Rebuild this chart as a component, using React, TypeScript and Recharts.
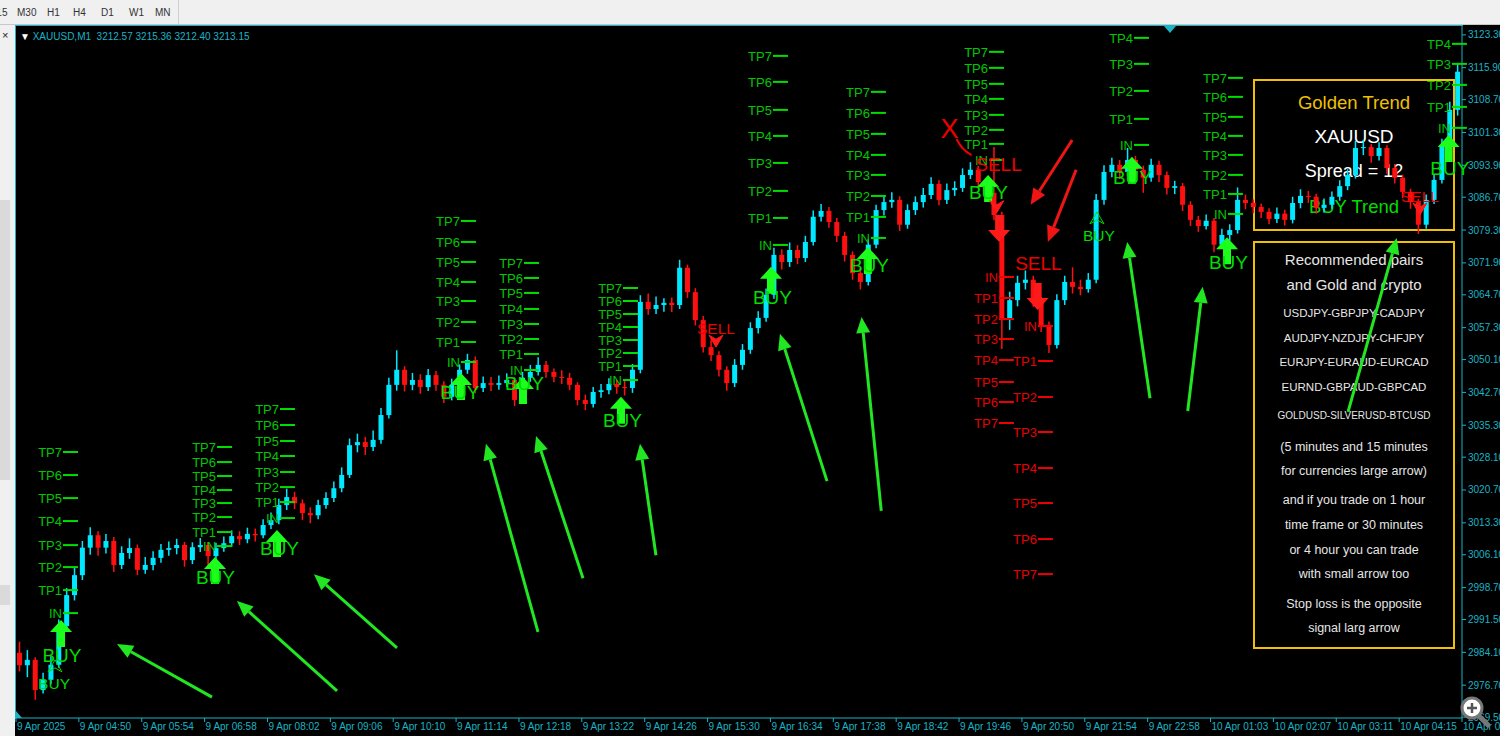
import React from "react";
import { ComposedChart, Bar, XAxis, YAxis, ReferenceDot, ReferenceLine } from "recharts";

const FONT = "'Liberation Sans', Arial, sans-serif";
const AXIS = "#19b4c6";
const UP = "#00e8ff";
const DOWN = "#ff1010";
const GREEN_TXT = "#00c800";
const GREEN_LINE = "#00dd00";
const LIME = "#1cff1c";
const RED_TXT = "#e80000";

// time scale labels, one every 8 bars (8 min per bar)
const timeLabels = [
  "9 Apr 2025", "9 Apr 04:50", "9 Apr 05:54", "9 Apr 06:58", "9 Apr 08:02", "9 Apr 09:06",
  "9 Apr 10:10", "9 Apr 11:14", "9 Apr 12:18", "9 Apr 13:22", "9 Apr 14:26", "9 Apr 15:30",
  "9 Apr 16:34", "9 Apr 17:38", "9 Apr 18:42", "9 Apr 19:46", "9 Apr 20:50", "9 Apr 21:54",
  "9 Apr 22:58", "10 Apr 01:03", "10 Apr 02:07", "10 Apr 03:11", "10 Apr 04:15", "10 Apr 05:19",
];
const timeTickBars = [-0.5, 7.5, 15.5, 23.5, 31.5, 39.5, 47.5, 55.5, 63.5, 71.5, 79.5, 87.5, 95.5, 103.5, 111.5, 119.5, 127.5, 135.5, 143.5, 151.5, 159.5, 167.5, 175.5, 183.5];

const priceTicks = [
  3123.3, 3115.9, 3108.7, 3101.3, 3093.9, 3086.7, 3079.3, 3071.9, 3064.7, 3057.3, 3050.1,
  3042.7, 3035.3, 3028.1, 3020.7, 3013.3, 3006.1, 2998.7, 2991.5, 2984.1, 2976.7, 2969.5,
];

const firstOpen = 2984.0;
const closes = [
  2981.2, 2982.4, 2975.6, 2977.9, 2981.3, 2990.0, 2997.0, 3001.5, 3007.7, 3010.5,
  3007.7, 3009.2, 3003.8, 3006.5, 3007.6, 3002.7, 3003.8, 3005.4, 3007.2, 3007.6,
  3008.3, 3004.9, 3007.8, 3008.3, 3005.8, 3007.6, 3008.7, 3010.3, 3009.6, 3010.8,
  3010.5, 3012.8, 3013.9, 3017.3, 3019.1, 3017.7, 3015.5, 3015.0, 3017.3, 3018.9,
  3021.1, 3024.1, 3030.8, 3031.5, 3030.4, 3032.0, 3037.6, 3044.4, 3047.8, 3044.4,
  3045.5, 3043.9, 3046.6, 3044.4, 3041.7, 3044.4, 3047.8, 3050.0, 3043.7, 3044.8,
  3044.4, 3044.8, 3045.5, 3041.0, 3046.0, 3047.3, 3048.9, 3047.3, 3046.2, 3046.0,
  3044.4, 3041.0, 3040.1, 3042.8, 3043.2, 3044.6, 3043.9, 3043.7, 3047.8, 3063.1,
  3061.5, 3062.4, 3062.9, 3062.4, 3070.8, 3065.3, 3059.0, 3052.9, 3051.1, 3047.8,
  3044.8, 3048.9, 3052.3, 3057.2, 3059.5, 3064.7, 3073.7, 3072.1, 3074.8, 3073.0,
  3076.6, 3082.3, 3083.6, 3081.1, 3078.0, 3073.7, 3069.6, 3067.6, 3076.0, 3083.8,
  3085.6, 3086.1, 3080.5, 3083.8, 3085.6, 3087.2, 3089.7, 3086.1, 3088.3, 3088.8,
  3091.7, 3092.9, 3090.1, 3087.7, 3082.7, 3059.0, 3063.5, 3067.4, 3068.1, 3063.5,
  3057.9, 3053.4, 3063.5, 3067.6, 3066.5, 3066.0, 3068.1, 3086.1, 3092.4, 3094.0,
  3092.4, 3095.1, 3092.9, 3091.1, 3094.0, 3091.7, 3088.8, 3089.2, 3085.0, 3081.6,
  3080.2, 3081.4, 3076.0, 3078.2, 3079.3, 3086.1, 3085.4, 3084.5, 3083.4, 3081.8,
  3083.0, 3081.6, 3085.4, 3087.0, 3086.8, 3084.3, 3085.0, 3086.8, 3089.2, 3091.7,
  3097.8, 3098.0, 3096.0, 3097.8, 3093.3, 3091.1, 3087.9, 3085.6, 3080.5, 3086.1,
  3090.6, 3098.5, 3106.4, 3115.0,
];
const highs = [
  2986.5, 2984.6, 2983.0, 2979.5, 2983.2, 2991.5, 2998.6, 3003.4, 3009.2, 3012.3,
  3011.4, 3010.8, 3010.1, 3008.0, 3009.8, 3008.4, 3005.6, 3006.9, 3008.5, 3009.1,
  3009.7, 3009.0, 3008.9, 3009.9, 3009.0, 3008.8, 3010.2, 3011.6, 3011.4, 3012.2,
  3012.0, 3014.1, 3015.6, 3018.7, 3021.0, 3020.3, 3018.6, 3016.8, 3018.5, 3020.2,
  3022.6, 3025.8, 3032.3, 3033.4, 3032.7, 3034.1, 3039.2, 3046.0, 3052.2, 3048.6,
  3047.1, 3046.8, 3048.0, 3047.5, 3045.2, 3045.8, 3049.0, 3051.4, 3050.8, 3046.3,
  3046.2, 3046.5, 3047.0, 3046.1, 3047.3, 3048.9, 3050.6, 3049.8, 3048.1, 3047.7,
  3047.1, 3045.0, 3042.2, 3043.9, 3044.6, 3045.9, 3045.5, 3045.3, 3049.1, 3064.6,
  3065.0, 3064.3, 3063.9, 3064.1, 3072.6, 3071.5, 3066.2, 3059.9, 3054.6, 3052.0,
  3048.6, 3050.2, 3053.6, 3058.5, 3061.0, 3066.1, 3075.3, 3075.0, 3076.5, 3075.9,
  3078.0, 3083.7, 3085.2, 3084.5, 3082.0, 3078.9, 3074.5, 3070.8, 3077.2, 3085.0,
  3087.2, 3087.8, 3086.9, 3085.1, 3086.9, 3088.8, 3091.2, 3090.5, 3089.8, 3090.3,
  3093.2, 3094.6, 3093.8, 3091.0, 3098.0, 3083.4, 3065.4, 3069.0, 3070.2, 3069.0,
  3064.2, 3058.7, 3064.8, 3069.0, 3070.9, 3068.1, 3069.6, 3087.4, 3093.9, 3095.6,
  3095.1, 3097.8, 3096.0, 3093.8, 3095.4, 3094.9, 3092.5, 3090.4, 3089.9, 3085.8,
  3082.5, 3082.8, 3082.0, 3079.6, 3080.6, 3088.9, 3087.3, 3086.2, 3085.3, 3084.2,
  3084.4, 3083.9, 3086.8, 3088.5, 3088.1, 3087.5, 3086.4, 3088.0, 3090.5, 3093.0,
  3099.4, 3099.6, 3098.7, 3099.1, 3098.4, 3094.2, 3091.8, 3088.6, 3086.3, 3087.3,
  3091.9, 3099.9, 3108.2, 3117.0,
];
const lows = [
  2979.8, 2978.5, 2973.4, 2974.8, 2976.9, 2980.6, 2989.1, 2995.8, 3000.4, 3006.1,
  3005.9, 3006.4, 3002.2, 3002.9, 3005.2, 3001.5, 3001.8, 3002.6, 3004.3, 3005.9,
  3006.2, 3003.4, 3004.0, 3006.7, 3003.6, 3004.7, 3006.8, 3007.9, 3008.3, 3008.7,
  3009.1, 3009.8, 3011.9, 3013.0, 3016.2, 3016.4, 3013.9, 3013.2, 3014.1, 3016.5,
  3018.0, 3020.2, 3023.4, 3029.2, 3028.6, 3029.5, 3031.1, 3036.8, 3043.1, 3042.9,
  3043.2, 3042.4, 3043.0, 3043.1, 3040.3, 3040.9, 3043.6, 3046.9, 3042.5, 3042.8,
  3043.0, 3043.3, 3043.9, 3039.6, 3040.2, 3045.1, 3046.5, 3046.0, 3045.0, 3044.6,
  3043.2, 3039.8, 3038.7, 3039.3, 3041.5, 3042.3, 3042.4, 3042.0, 3042.6, 3047.0,
  3060.2, 3060.4, 3060.9, 3060.8, 3061.5, 3064.0, 3057.8, 3051.7, 3049.8, 3046.3,
  3043.1, 3043.9, 3047.8, 3051.4, 3056.0, 3058.6, 3063.8, 3070.4, 3071.0, 3071.6,
  3072.1, 3075.8, 3081.2, 3079.8, 3076.6, 3072.2, 3068.1, 3065.9, 3066.8, 3075.2,
  3082.6, 3084.3, 3079.1, 3079.6, 3082.7, 3084.4, 3086.3, 3084.9, 3085.2, 3087.0,
  3087.9, 3090.8, 3088.9, 3086.2, 3081.5, 3052.5, 3056.8, 3062.1, 3065.9, 3062.0,
  3056.3, 3051.6, 3052.6, 3062.4, 3065.0, 3064.6, 3065.2, 3067.3, 3085.0, 3091.2,
  3090.8, 3091.5, 3091.3, 3087.7, 3090.2, 3090.1, 3087.3, 3087.4, 3083.6, 3080.2,
  3078.9, 3079.4, 3074.3, 3075.1, 3076.9, 3078.5, 3084.0, 3083.1, 3082.0, 3080.6,
  3080.9, 3080.3, 3080.8, 3084.2, 3085.4, 3083.0, 3083.2, 3084.1, 3085.9, 3088.3,
  3090.9, 3096.2, 3094.5, 3095.0, 3092.0, 3089.8, 3086.5, 3084.1, 3078.4, 3079.6,
  3085.2, 3089.8, 3097.6, 3105.1,
];

// IN / TP ladders: side, bar position, prices [IN, TP1..TP7]
const ladderSide = ["buy", "buy", "buy", "buy", "buy", "buy", "buy", "buy", "buy", "sell", "sell", "buy", "buy", "buy"];
const ladderBar = [5.48, 25.08, 33.09, 56.12, 64.14, 76.74, 95.82, 108.29, 123.31, 124.58, 129.54, 141.76, 153.72, 182.22];
const ladderLevels = [
  [2992.95, 2998.14, 3003.32, 3008.28, 3013.7, 3018.88, 3024.07, 3029.26],
  [3008.06, 3011.22, 3014.6, 3017.76, 3020.69, 3023.85, 3027.0, 3030.39],
  [3014.37, 3017.98, 3021.36, 3024.75, 3028.36, 3031.74, 3035.35, 3038.96],
  [3049.55, 3054.07, 3058.58, 3063.31, 3067.6, 3072.11, 3076.62, 3081.35],
  [3047.75, 3051.36, 3054.74, 3058.12, 3061.51, 3065.12, 3068.5, 3071.88],
  [3045.5, 3048.65, 3051.58, 3054.52, 3057.45, 3060.38, 3063.31, 3066.24],
  [3075.94, 3082.03, 3088.12, 3094.43, 3100.52, 3106.39, 3112.7, 3118.56],
  [3077.52, 3082.26, 3086.99, 3091.73, 3096.24, 3100.97, 3105.71, 3110.45],
  [3095.11, 3098.72, 3101.88, 3105.26, 3108.87, 3112.25, 3115.86, 3119.47],
  [3068.72, 3063.99, 3059.25, 3054.74, 3050.01, 3045.04, 3040.53, 3035.8],
  [3057.67, 3049.78, 3041.66, 3033.77, 3025.65, 3017.76, 3009.64, 3001.74],
  [3098.49, 3104.36, 3110.67, 3116.76, 3122.62],
  [3082.93, 3087.44, 3091.73, 3096.24, 3100.52, 3104.81, 3109.32, 3113.6],
  [3102.33, 3107.06, 3112.02, 3116.76, 3121.27],
];

// large signal arrows (tip price)
const arrowSide = ["buy", "buy", "buy", "buy", "buy", "buy", "buy", "buy", "buy", "buy", "buy", "buy", "sell", "sell"];
const arrowBar = [5.23, 24.82, 32.71, 56.12, 64.01, 76.48, 95.57, 107.9, 123.2, 141.5, 153.6, 181.8, 124.6, 129.5];
const arrowPrice = [2991.4, 3005.6, 3011.7, 3047.1, 3046.2, 3041.7, 3071.0, 3075.5, 3091.7, 3095.8, 3077.7, 3100.7, 3076.6, 3061.3];

// signal words
const tagText = ["BUY", "BUY", "BUY", "BUY", "BUY", "BUY", "BUY", "BUY", "BUY", "BUY", "BUY", "BUY", "SELL", "SELL", "BUY", "BUY", "SELL", "SELL"];
const tagBar = [5.35, 24.88, 33.03, 56.0, 64.2, 76.67, 95.76, 108.1, 123.24, 141.57, 153.78, 181.96, 124.52, 129.6, 4.34, 137.3, 88.57, 178.15];
const tagPrice = [2983.5, 3001.1, 3007.6, 3042.8, 3044.8, 3036.5, 3064.2, 3071.4, 3087.9, 3091.3, 3072.1, 3093.3, 3094.2, 3071.9, 2977.2, 3078.0, 3057.2, 3086.8];
const tagBig = [true, true, true, true, true, true, true, true, true, true, true, true, true, true, false, false, false, false];

// small outline arrows
const smallSide = ["buy", "buy", "sell", "sell", "sell"];
const smallBar = [4.46, 137.05, 88.57, 124.3, 178.15];
const smallPrice = [2982.4, 3083.4, 3052.9, 3083.2, 3082.7];

// drawn pointer arrows: tail bar/price -> head bar/price
const pointerColor = ["g", "g", "g", "g", "g", "g", "g", "g", "g", "g", "g", "r", "r"];
const pointerFromBar = [24.44, 40.35, 47.98, 65.92, 71.65, 80.93, 102.7, 109.6, 143.8, 148.6, 169.0, 133.9, 134.4];
const pointerFromPrice = [2974.0, 2975.4, 2985.1, 2988.7, 3000.8, 3006.0, 3022.7, 3016.0, 3041.4, 3038.5, 3038.3, 3099.6, 3092.9];
const pointerToBar = [12.35, 27.62, 37.42, 59.3, 65.67, 78.9, 96.71, 107.1, 140.9, 150.5, 175.2, 128.6, 130.8];
const pointerToPrice = [2986.0, 2995.7, 3001.7, 3031.1, 3032.9, 3031.1, 3055.9, 3059.7, 3076.6, 3066.5, 3077.5, 3085.0, 3076.6];

const crossBar = 118.3;
const crossPrice = 3102.3;

const panelTop = [
  { y: 103, t: "Golden Trend", s: 18.5, c: "#f0c000" },
  { y: 137, t: "XAUUSD", s: 19, c: "#ffffff" },
  { y: 172, t: "Spread = 12", s: 18, c: "#ffffff" },
  { y: 207, t: "BUY Trend", s: 18.5, c: "#00dd00" },
];
const panelBottom = [
  { y: 260, t: "Recommended pairs", s: 15 },
  { y: 285, t: "and Gold and crypto", s: 15 },
  { y: 314, t: "USDJPY-GBPJPY-CADJPY", s: 11.5 },
  { y: 339, t: "AUDJPY-NZDJPY-CHFJPY", s: 11.5 },
  { y: 363, t: "EURJPY-EURAUD-EURCAD", s: 11.5 },
  { y: 388, t: "EURND-GBPAUD-GBPCAD", s: 11.5 },
  { y: 416, t: "GOLDUSD-SILVERUSD-BTCUSD", s: 10 },
  { y: 447, t: "(5 minutes and 15 minutes", s: 12.5 },
  { y: 471, t: "for currencies large arrow)", s: 12.5 },
  { y: 500, t: "and if you trade on 1 hour", s: 12.5 },
  { y: 525, t: "time frame or 30 minutes", s: 12.5 },
  { y: 550, t: "or 4 hour you can trade", s: 12.5 },
  { y: 574, t: "with small arrow too", s: 12.5 },
  { y: 604, t: "Stop loss is the opposite", s: 12.5 },
  { y: 628, t: "signal larg arrow", s: 12.5 },
];

const toolbarItems = [
  { x: -12, t: "M15" }, { x: 17, t: "M30" }, { x: 47, t: "H1" }, { x: 73, t: "H4" },
  { x: 101, t: "D1" }, { x: 129, t: "W1" }, { x: 155, t: "MN" },
];

const bars = closes.map((c, i) => ({
  i,
  o: i === 0 ? firstOpen : closes[i - 1],
  c,
  h: highs[i],
  l: lows[i],
  range: [lows[i], highs[i]],
}));

function Candle(props: any) {
  const { x, y, width, height, payload } = props;
  if (!payload) return null;
  const { o, c, h, l } = payload;
  const color = c >= o ? UP : DOWN;
  const top = Math.min(y, y + height);
  const hh = Math.abs(height);
  const k = hh / Math.max(h - l, 0.0001);
  const cx = x + width / 2;
  const bTop = top + (h - Math.max(o, c)) * k;
  const bh = Math.max(1, Math.abs(o - c) * k);
  return (
    <g>
      <line x1={cx} x2={cx} y1={top} y2={top + hh} stroke={color} strokeWidth={1.5} />
      <rect x={cx - 2.5} y={bTop} width={5} height={bh} fill={color} />
    </g>
  );
}

function BigArrow({ cx, cy, side }: any) {
  const s = side === "buy" ? 1 : -1;
  const pts = [[0, 0], [11, 12], [4, 12], [4, 27], [-4, 27], [-4, 12], [-11, 12]]
    .map(([dx, dy]) => `${cx + dx},${cy + s * dy}`)
    .join(" ");
  return <polygon points={pts} fill={side === "buy" ? LIME : "#ff1a1a"} />;
}

function SmallArrow({ cx, cy, side }: any) {
  const s = side === "buy" ? 1 : -1;
  const pts = [[0, 0], [7, 12], [0, 8], [-7, 12]].map(([dx, dy]) => `${cx + dx},${cy + s * dy}`).join(" ");
  const col = side === "buy" ? GREEN_LINE : "#ff1a1a";
  return <polygon points={pts} fill={side === "buy" ? "none" : col} stroke={col} strokeWidth={1} />;
}

function Pointer(p: any) {
  const { x1, y1, x2, y2, col } = p;
  const a = Math.atan2(y2 - y1, x2 - x1);
  const L = 16;
  const W = 7;
  const bx = x2 - L * Math.cos(a);
  const by = y2 - L * Math.sin(a);
  const nx = -Math.sin(a);
  const ny = Math.cos(a);
  const color = col === "r" ? "#f01515" : "#22e622";
  return (
    <g>
      <line x1={x1} y1={y1} x2={bx} y2={by} stroke={color} strokeWidth={3} />
      <polygon points={`${x2},${y2} ${bx + W * nx},${by + W * ny} ${bx - W * nx},${by - W * ny}`} fill={color} />
    </g>
  );
}

function TimeTick(p: any) {
  const k = timeTickBars.indexOf(p.payload.value);
  return (
    <text x={p.x + 1} y={p.y} dy={7} textAnchor="start" fill={AXIS} fontSize={10} fontFamily={FONT}>
      {timeLabels[k]}
    </text>
  );
}

function PriceTick(p: any) {
  return (
    <text x={p.x} y={p.y} dy="0.35em" textAnchor="start" fill={AXIS} fontSize={10} fontFamily={FONT}>
      {Number(p.payload.value).toFixed(2)}
    </text>
  );
}

export default function App() {
  return (
    <div style={{ position: "fixed", left: 0, top: 0, width: 1500, height: 736, background: "#f0f0f0", overflow: "hidden", fontFamily: FONT }}>
      {/* toolbar */}
      {toolbarItems.map((it) => (
        <div key={it.t} style={{ position: "absolute", left: it.x, top: 7, fontSize: 10, color: "#333", fontFamily: FONT }}>
          {it.t}
        </div>
      ))}
      <div style={{ position: "absolute", left: 178, top: 0, width: 1, height: 24, background: "#d0d0d0" }} />
      <div style={{ position: "absolute", left: 0, top: 24, width: 1500, height: 1, background: "#c8c8c8" }} />
      {/* left strip */}
      <div style={{ position: "absolute", left: 2, top: 29, fontSize: 11, color: "#222" }}>×</div>
      <div style={{ position: "absolute", left: 0, top: 200, width: 10, height: 280, background: "#dadada" }} />
      <div style={{ position: "absolute", left: 0, top: 585, width: 10, height: 20, background: "#dadada" }} />

      {/* chart background */}
      <div style={{ position: "absolute", left: 15, top: 25, width: 1485, height: 711, background: "#000" }} />
      <div style={{ position: "absolute", left: 15, top: 25, width: 1448, height: 1, background: AXIS }} />
      <div style={{ position: "absolute", left: 15, top: 25, width: 1, height: 694, background: AXIS }} />

      {/* info panels */}
      <div style={{ position: "absolute", left: 1253, top: 79, width: 202, height: 152, border: "2px solid #f0c000", boxSizing: "border-box" }} />
      <div style={{ position: "absolute", left: 1253, top: 241, width: 202, height: 408, border: "2px solid #f0c000", boxSizing: "border-box" }} />
      {panelTop.map((r) => (
        <div key={r.t} style={{ position: "absolute", left: 1253, width: 202, top: r.y - r.s * 0.6, height: r.s * 1.2, lineHeight: `${r.s * 1.2}px`, fontSize: r.s, color: r.c, textAlign: "center", whiteSpace: "nowrap" }}>
          {r.t}
        </div>
      ))}
      {panelBottom.map((r) => (
        <div key={r.t} style={{ position: "absolute", left: 1253, width: 202, top: r.y - r.s * 0.6, height: r.s * 1.2, lineHeight: `${r.s * 1.2}px`, fontSize: r.s, color: "#e6e6e6", textAlign: "center", whiteSpace: "nowrap" }}>
          {r.t}
        </div>
      ))}

      {/* chart */}
      <div style={{ position: "absolute", left: 15, top: 25 }}>
        <ComposedChart width={1485} height={711} data={bars} margin={{ top: 1, right: 0, bottom: 0, left: 1 }}>
          <XAxis
            dataKey="i"
            type="number"
            domain={[-0.5, 183.5]}
            allowDataOverflow
            ticks={timeTickBars}
            interval={0}
            height={18}
            stroke={AXIS}
            tickSize={4}
            tickMargin={1}
            tick={<TimeTick />}
          />
          <YAxis
            orientation="right"
            type="number"
            domain={[2969.3, 3125.3]}
            allowDataOverflow
            ticks={priceTicks}
            interval={0}
            width={38}
            stroke={AXIS}
            tickSize={4}
            tickMargin={2}
            tick={<PriceTick />}
          />
          <Bar dataKey="range" barSize={7} shape={<Candle />} isAnimationActive={false} />

          {ladderLevels.map((lv, g) =>
            lv.map((p, k) => {
              const sell = ladderSide[g] === "sell";
              const label = k === 0 ? "IN" : `TP${k}`;
              return (
                <ReferenceDot
                  key={`l${g}-${k}`}
                  x={ladderBar[g]}
                  y={p}
                  ifOverflow="hidden"
                  shape={(d: any) => (
                    <g>
                      <text x={d.cx - 1} y={d.cy} dy="0.36em" textAnchor="end" fill={sell ? RED_TXT : GREEN_TXT} fontSize={13} fontFamily={FONT}>
                        {label}
                      </text>
                      <line x1={d.cx} x2={d.cx + 15} y1={d.cy} y2={d.cy} stroke={sell ? "#f00000" : GREEN_LINE} strokeWidth={2} />
                    </g>
                  )}
                />
              );
            })
          )}

          {arrowBar.map((b, k) => (
            <ReferenceDot key={`a${k}`} x={b} y={arrowPrice[k]} ifOverflow="hidden" shape={(d: any) => <BigArrow cx={d.cx} cy={d.cy} side={arrowSide[k]} />} />
          ))}

          {smallBar.map((b, k) => (
            <ReferenceDot key={`s${k}`} x={b} y={smallPrice[k]} ifOverflow="hidden" shape={(d: any) => <SmallArrow cx={d.cx} cy={d.cy} side={smallSide[k]} />} />
          ))}

          {tagBar.map((b, k) => (
            <ReferenceDot
              key={`t${k}`}
              x={b}
              y={tagPrice[k]}
              ifOverflow="hidden"
              shape={(d: any) => (
                <text x={d.cx} y={d.cy} dy="0.36em" textAnchor="middle" fill={tagText[k] === "BUY" ? "#00dd00" : "#ee0000"} fontSize={tagBig[k] ? 19 : 15.5} fontFamily={FONT}>
                  {tagText[k]}
                </text>
              )}
            />
          ))}

          <ReferenceDot
            x={crossBar}
            y={crossPrice}
            shape={(d: any) => (
              <g>
                <text x={d.cx} y={d.cy} dy="0.36em" textAnchor="middle" fill="#ee0000" fontSize={27} fontFamily={FONT}>
                  X
                </text>
                <path d={`M${d.cx + 7},${d.cy + 11} Q${d.cx + 12},${d.cy + 22} ${d.cx + 22},${d.cy + 27}`} stroke="#ee0000" strokeWidth={2} fill="none" />
              </g>
            )}
          />

          {pointerFromBar.map((b, k) => (
            <ReferenceLine
              key={`p${k}`}
              segment={[
                { x: b, y: pointerFromPrice[k] },
                { x: pointerToBar[k], y: pointerToPrice[k] },
              ]}
              ifOverflow="visible"
              shape={(d: any) => <Pointer x1={d.x1} y1={d.y1} x2={d.x2} y2={d.y2} col={pointerColor[k]} />}
            />
          ))}
        </ComposedChart>
      </div>

      {/* header and decorations */}
      <div style={{ position: "absolute", left: 20, top: 31, fontSize: 10, color: AXIS, whiteSpace: "pre", fontFamily: FONT }}>
        <span style={{ color: "#fff" }}>▼ </span>XAUUSD,M1  3212.57 3215.36 3212.40 3213.15
      </div>
      <svg style={{ position: "absolute", left: 0, top: 0 }} width={1500} height={736} pointerEvents="none">
        <polygon points="1164,26 1176,26 1170,33" fill={AXIS} />
        <polygon points="16,711 16,718 22,718" fill={AXIS} />
        <line x1={1479} y1={716} x2={1488} y2={725} stroke="#777" strokeWidth={5} strokeLinecap="round" />
        <circle cx={1472} cy={708} r={10} fill="#fff" stroke="#777" strokeWidth={3} />
        <line x1={1467} y1={708} x2={1477} y2={708} stroke="#555" strokeWidth={2.5} />
        <line x1={1472} y1={703} x2={1472} y2={713} stroke="#555" strokeWidth={2.5} />
      </svg>
    </div>
  );
}
